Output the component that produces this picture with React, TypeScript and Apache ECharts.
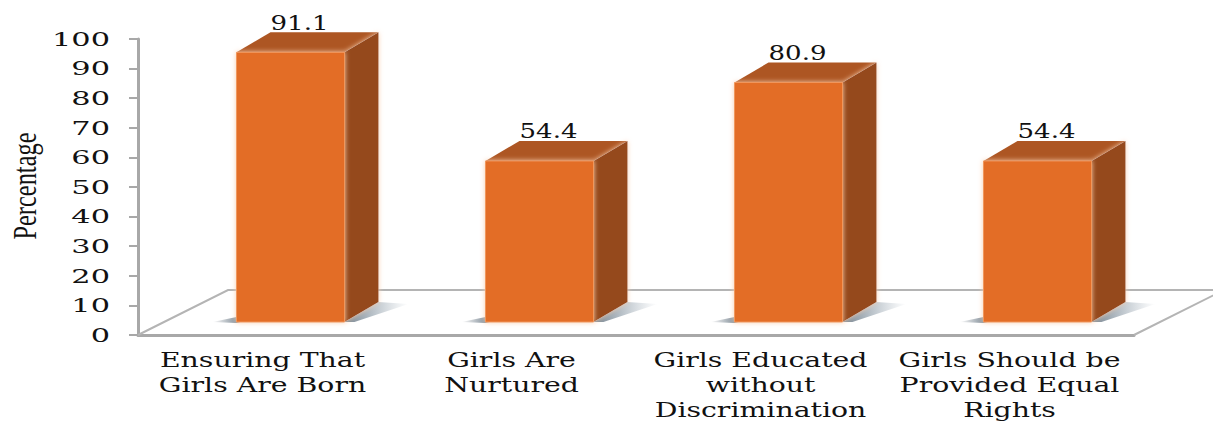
import React, { useEffect, useRef } from "react";
import * as echarts from "echarts";

const categories = [
  "Ensuring That\nGirls Are Born",
  "Girls Are\nNurtured",
  "Girls Educated\nwithout\nDiscrimination",
  "Girls Should be\nProvided Equal\nRights",
];
const percentages = [91.1, 54.4, 80.9, 54.4];
const percentageLabels = ["91.1", "54.4", "80.9", "54.4"];
const yTicks = [0, 10, 20, 30, 40, 50, 60, 70, 80, 90, 100];
const yAxisTitle = "Percentage";

const SERIF = '"DejaVu Serif", serif';
const INK = "#111";
const AXIS_GREY = "#a8a8a8";

// Oblique offsets of the pseudo-3D column and of the floor.
const FRONT_LIFT = 13;
const BAR_SHIFT = 28;
const BAR_WIDTH = 108;
const DEPTH_X = 34;
const DEPTH_Y = 20;
const FLOOR_X = 90;
const FLOOR_Y = 45;

function renderFloor(_params: any, api: any) {
  const origin = api.coord([0, 0]);
  const band = api.size([1, 0])[0];
  const left = origin[0] - band / 2;
  const right = left + band * categories.length;
  const y = origin[1];
  return {
    type: "group",
    children: [
      {
        type: "polyline",
        shape: {
          points: [
            [left, y],
            [left + FLOOR_X, y - FLOOR_Y],
            [right + FLOOR_X, y - FLOOR_Y],
            [right, y],
          ],
        },
        style: { fill: "none", stroke: "#b4b4b4", lineWidth: 2 },
      },
    ],
  };
}

function renderColumn(params: any, api: any) {
  const idx = api.value(0);
  const value = api.value(1);
  const base = api.coord([idx, 0]);
  const top = api.coord([idx, value]);
  const x0 = base[0] + BAR_SHIFT - BAR_WIDTH / 2;
  const x1 = x0 + BAR_WIDTH;
  const yb = base[1] - FRONT_LIFT;
  const yt = top[1] - FRONT_LIFT;
  const fadeRight = new echarts.graphic.LinearGradient(0, 0, 1, 0, [
    { offset: 0, color: "#6f7f8c" },
    { offset: 1, color: "rgba(150,165,178,0)" },
  ]);
  const fadeLeft = new echarts.graphic.LinearGradient(0, 0, 1, 0, [
    { offset: 0, color: "rgba(120,130,140,0)" },
    { offset: 1, color: "#6f7f8c" },
  ]);
  return {
    type: "group",
    children: [
      {
        type: "polygon",
        shape: { points: [[x0 - 24, yb], [x0, yb - 5], [x0 + 4, yb], [x0, yb + 1]] },
        style: { fill: fadeLeft },
      },
      {
        type: "polygon",
        shape: {
          points: [
            [x1, yb],
            [x1 + DEPTH_X, yb - DEPTH_Y],
            [x1 + DEPTH_X + 30, yb - DEPTH_Y + 2],
            [x1 + 10, yb],
          ],
        },
        style: { fill: fadeRight },
      },
      {
        type: "polygon",
        shape: {
          points: [
            [x0, yt],
            [x0 + DEPTH_X, yt - DEPTH_Y],
            [x1 + DEPTH_X, yt - DEPTH_Y],
            [x1, yt],
          ],
        },
        style: { fill: "#ad5623" },
      },
      {
        type: "polygon",
        shape: {
          points: [
            [x1, yt],
            [x1 + DEPTH_X, yt - DEPTH_Y],
            [x1 + DEPTH_X, yb - DEPTH_Y],
            [x1, yb],
          ],
        },
        style: { fill: "#95491f", shadowBlur: 5, shadowColor: "#f9cfae" },
      },
      {
        type: "rect",
        shape: { x: x0, y: yt, width: BAR_WIDTH, height: yb - yt },
        style: { fill: "#e36d27", stroke: "#f0975c", lineWidth: 1, shadowBlur: 5, shadowColor: "#f9cfae" },
      },
      {
        type: "text",
        x: x0 + BAR_WIDTH / 2 + 9,
        y: yt - DEPTH_Y,
        scaleX: 1.3,
        style: {
          text: percentageLabels[params.dataIndex],
          align: "center",
          verticalAlign: "bottom",
          font: `20px ${SERIF}`,
          fill: INK,
        },
      },
    ],
  };
}

// Category captions, widened to the broad serif look of the chart.
function renderCategoryText(params: any, api: any) {
  const pos = api.coord([api.value(0), 0]);
  return {
    type: "text",
    x: pos[0],
    y: pos[1] + 12,
    scaleX: 1.35,
    style: {
      text: categories[params.dataIndex],
      align: "center",
      verticalAlign: "top",
      font: `21px ${SERIF}`,
      lineHeight: 25,
      fill: INK,
    },
  };
}

function renderTickText(params: any, api: any) {
  const pos = api.coord([0, api.value(1)]);
  const band = api.size([1, 0])[0];
  return {
    type: "text",
    x: pos[0] - band / 2 - 28,
    y: pos[1],
    scaleX: 1.6,
    style: {
      text: String(yTicks[params.dataIndex]),
      align: "right",
      verticalAlign: "middle",
      font: `19px ${SERIF}`,
      fill: INK,
    },
  };
}

export default function App() {
  const ref = useRef<HTMLDivElement>(null);

  useEffect(() => {
    const chart = echarts.init(ref.current!, null, { renderer: "svg" });
    chart.setOption({
      animation: false,
      backgroundColor: "#fff",
      grid: { left: 138, right: 79, top: 39, bottom: 87, outerBoundsMode: "none" },
      xAxis: {
        type: "category",
        data: categories,
        axisLine: { lineStyle: { color: AXIS_GREY, width: 3 } },
        axisTick: { length: 7, alignWithLabel: false, lineStyle: { color: AXIS_GREY, width: 2 } },
        axisLabel: { show: false },
      },
      yAxis: {
        type: "value",
        min: 0,
        max: 100,
        interval: 10,
        splitLine: { show: false },
        axisLine: { show: true, lineStyle: { color: AXIS_GREY, width: 3 } },
        axisTick: { show: true, length: 9, lineStyle: { color: AXIS_GREY, width: 2 } },
        axisLabel: { show: false },
      },
      graphic: [
        {
          type: "text",
          x: 25,
          y: 186,
          rotation: Math.PI / 2,
          scaleX: 0.74,
          style: {
            text: yAxisTitle,
            align: "center",
            verticalAlign: "middle",
            font: '33px "Liberation Serif", serif',
            fill: INK,
          },
        },
      ],
      series: [
        { type: "custom", silent: true, z: 1, renderItem: renderFloor, data: [[0, 0]], encode: { x: 0, y: 1 } },
        {
          type: "custom",
          silent: true,
          z: 2,
          renderItem: renderColumn,
          data: percentages.map((v, i) => [i, v]),
          encode: { x: 0, y: 1 },
        },
        {
          type: "custom",
          silent: true,
          z: 3,
          renderItem: renderCategoryText,
          data: categories.map((_, i) => [i, 0]),
          encode: { x: 0, y: 1 },
        },
        {
          type: "custom",
          silent: true,
          z: 3,
          renderItem: renderTickText,
          data: yTicks.map((t) => [0, t]),
          encode: { x: 0, y: 1 },
        },
      ],
    });
    return () => chart.dispose();
  }, []);

  return <div ref={ref} style={{ position: "absolute", left: 0, top: 0, width: 1213, height: 422 }} />;
}
